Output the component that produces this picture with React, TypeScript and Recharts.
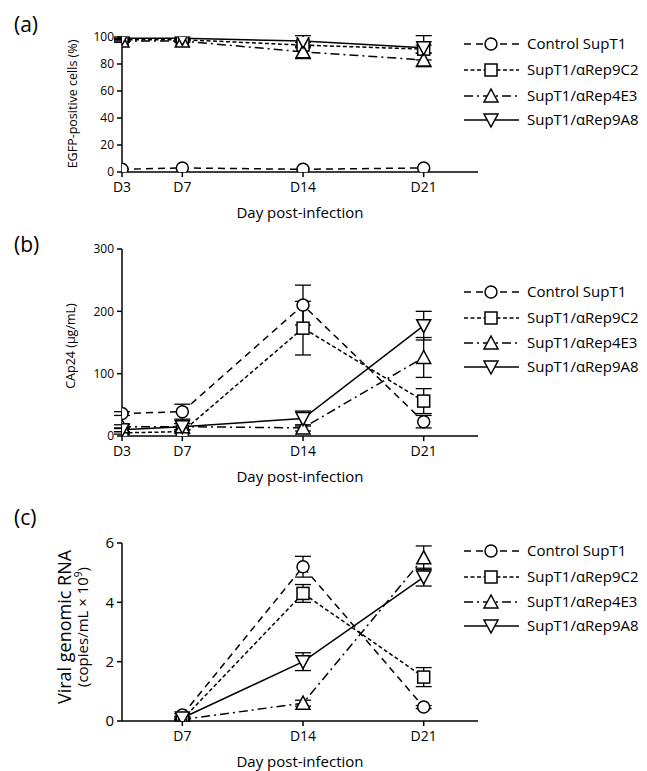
import React from "react"
import { LineChart, Line, XAxis, YAxis, ErrorBar } from "recharts"

const FONT = '"Open Sans", sans-serif'

const dayLabels = ["D3", "D7", "D14", "D21"]
const dayPos = [0, 1, 3, 5]
const seriesNames = ["Control SupT1", "SupT1/αRep9C2", "SupT1/αRep4E3", "SupT1/αRep9A8"]

// (a) EGFP-positive cells (%)
const aControl = [2, 3, 2, 3]
const aRep9C2 = [98, 98, 94, 91]
const aRep4E3 = [97, 97, 89, 83]
const aRep9A8 = [99, 99, 97, 92]
const aControlErr = [0, 0, 0, 0]
const aRep9C2Err = [1, 1, 2, 3]
const aRep4E3Err = [1, 1, 5, 5]
const aRep9A8Err = [1, 1, 4, 9]
const aTicks = [0, 20, 40, 60, 80, 100]

// (b) CAp24 (µg/mL)
const bControl = [36, 39, 210, 23]
const bRep9C2 = [5, 7, 173, 56]
const bRep4E3 = [15, 15, 13, 126]
const bRep9A8 = [10, 15, 28, 177]
const bControlErr = [3, 12, 32, 10]
const bRep9C2Err = [2, 3, 43, 20]
const bRep4E3Err = [3, 5, 5, 32]
const bRep9A8Err = [3, 5, 12, 23]
const bTicks = [0, 100, 200, 300]

// (c) Viral genomic RNA (copies/mL x 10^9), D7 / D14 / D21
const cDayPos = [1, 3, 5]
const cControl = [0.2, 5.2, 0.47]
const cRep9C2 = [0.05, 4.3, 1.48]
const cRep4E3 = [0.05, 0.6, 5.5]
const cRep9A8 = [0.1, 2.0, 4.85]
const cControlErr = [0.05, 0.35, 0.05]
const cRep9C2Err = [0.05, 0.3, 0.32]
const cRep4E3Err = [0.02, 0.1, 0.4]
const cRep9A8Err = [0.05, 0.3, 0.3]
const cTicks = [0, 2, 4, 6]

const dashes = ["7 5", "4 2.5", "9 4 2 4", undefined]
const shapes = ["circle", "square", "triUp", "triDown"]

function makeRows(pos: number[], series: number[][], errs: number[][]) {
  return pos.map((x, i) => {
    const row: any = { x }
    series.forEach((s, k) => {
      row["s" + k] = s[i]
      row["e" + k] = errs[k][i]
    })
    return row
  })
}

function Marker({ cx, cy, kind }: { cx: number; cy: number; kind: string }) {
  const st = { fill: "#fff", stroke: "#000", strokeWidth: 1.5 }
  if (kind === "circle") return <circle cx={cx} cy={cy} r={6} {...st} />
  if (kind === "square") return <rect x={cx - 6} y={cy - 6} width={12} height={12} {...st} />
  if (kind === "triUp")
    return <polygon points={`${cx - 7},${cy + 6} ${cx + 7},${cy + 6} ${cx},${cy - 7}`} {...st} />
  return <polygon points={`${cx - 7},${cy - 6} ${cx + 7},${cy - 6} ${cx},${cy + 7}`} {...st} />
}

const panels = [
  {
    id: "a",
    top: 0,
    height: 230,
    margin: { top: 37, right: 169, bottom: 8, left: 62 },
    xHeight: 50,
    data: makeRows(dayPos, [aControl, aRep9C2, aRep4E3, aRep9A8], [aControlErr, aRep9C2Err, aRep4E3Err, aRep9A8Err]),
    xTicks: dayPos,
    yTicks: aTicks,
    yFont: 12,
  },
  {
    id: "b",
    top: 230,
    height: 260,
    margin: { top: 19, right: 169, bottom: 8, left: 62 },
    xHeight: 46,
    data: makeRows(dayPos, [bControl, bRep9C2, bRep4E3, bRep9A8], [bControlErr, bRep9C2Err, bRep4E3Err, bRep9A8Err]),
    xTicks: dayPos,
    yTicks: bTicks,
    yFont: 12,
  },
  {
    id: "c",
    top: 490,
    height: 281,
    margin: { top: 53, right: 169, bottom: 6, left: 62 },
    xHeight: 44,
    data: makeRows(cDayPos, [cControl, cRep9C2, cRep4E3, cRep9A8], [cControlErr, cRep9C2Err, cRep4E3Err, cRep9A8Err]),
    xTicks: cDayPos,
    yTicks: cTicks,
    yFont: 15,
  },
]

function Panel(p: any) {
  const yMax = p.yTicks[p.yTicks.length - 1]
  return (
    <div style={{ position: "absolute", left: 0, top: p.top }}>
      <LineChart width={647} height={p.height} data={p.data} margin={p.margin}>
        <XAxis
          type="number"
          dataKey="x"
          domain={[0, 5.9]}
          ticks={p.xTicks}
          tickFormatter={(v: number) => dayLabels[dayPos.indexOf(v)]}
          stroke="#000"
          strokeWidth={1.5}
          tickSize={5}
          tickMargin={5}
          height={p.xHeight}
          tick={{ fill: "#000", fontSize: 14, fontFamily: FONT }}
          allowDataOverflow
        />
        <YAxis
          type="number"
          domain={[0, yMax]}
          ticks={p.yTicks}
          stroke="#000"
          strokeWidth={1.5}
          tickSize={5}
          tickMargin={3}
          width={60}
          tick={{ fill: "#000", fontSize: p.yFont, fontFamily: FONT }}
          allowDataOverflow
        />
        {[0, 1, 2, 3].map((k) => (
          <Line
            key={k}
            type="linear"
            dataKey={"s" + k}
            stroke="#000"
            strokeWidth={1.5}
            strokeDasharray={dashes[k]}
            isAnimationActive={false}
            activeDot={false}
            dot={(d: any) => <Marker key={d.index} cx={d.cx} cy={d.cy} kind={shapes[k]} />}
          >
            <ErrorBar dataKey={"e" + k} width={8} stroke="#000" strokeWidth={1.3} direction="y" />
          </Line>
        ))}
      </LineChart>
    </div>
  )
}

const legendRows = [
  [44, 70, 96, 120],
  [292, 318, 343, 367],
  [551, 577, 602, 626],
]

export default function App() {
  return (
    <div style={{ position: "absolute", left: 0, top: 0, width: 647, height: 771, background: "#fff" }}>
      {panels.map((p) => (
        <Panel key={p.id} {...p} />
      ))}
      <svg
        width={647}
        height={771}
        style={{ position: "absolute", left: 0, top: 0, pointerEvents: "none" }}
        fontFamily={FONT}
      >
        <text x={14} y={32} fontSize={21}>(a)</text>
        <text x={14} y={252} fontSize={21}>(b)</text>
        <text x={14} y={525} fontSize={21}>(c)</text>

        <text x={300} y={218} fontSize={15} textAnchor="middle">Day post-infection</text>
        <text x={300} y={482} fontSize={15} textAnchor="middle">Day post-infection</text>
        <text x={300} y={767} fontSize={15} textAnchor="middle">Day post-infection</text>

        <text transform="translate(77,104) rotate(-90)" fontSize={12.5} textAnchor="middle">EGFP-positive cells (%)</text>
        <text transform="translate(75,346) rotate(-90)" fontSize={12.5} textAnchor="middle">CAp24 (µg/mL)</text>
        <text transform="translate(71,627) rotate(-90)" fontSize={18} textAnchor="middle">Viral genomic RNA</text>
        <text transform="translate(88,627) rotate(-90)" fontSize={15} textAnchor="middle">
          (copies/mL × 10<tspan fontSize={10} dy={-6}>9</tspan><tspan dy={6}>)</tspan>
        </text>

        {legendRows.map((rows, li) =>
          rows.map((y, k) => (
            <g key={li + "-" + k}>
              <line x1={464} x2={519} y1={y} y2={y} stroke="#000" strokeWidth={1.5} strokeDasharray={dashes[k]} />
              <Marker cx={491} cy={y} kind={shapes[k]} />
              <text x={527} y={y + 5} fontSize={15}>{seriesNames[k]}</text>
            </g>
          ))
        )}
      </svg>
    </div>
  )
}
